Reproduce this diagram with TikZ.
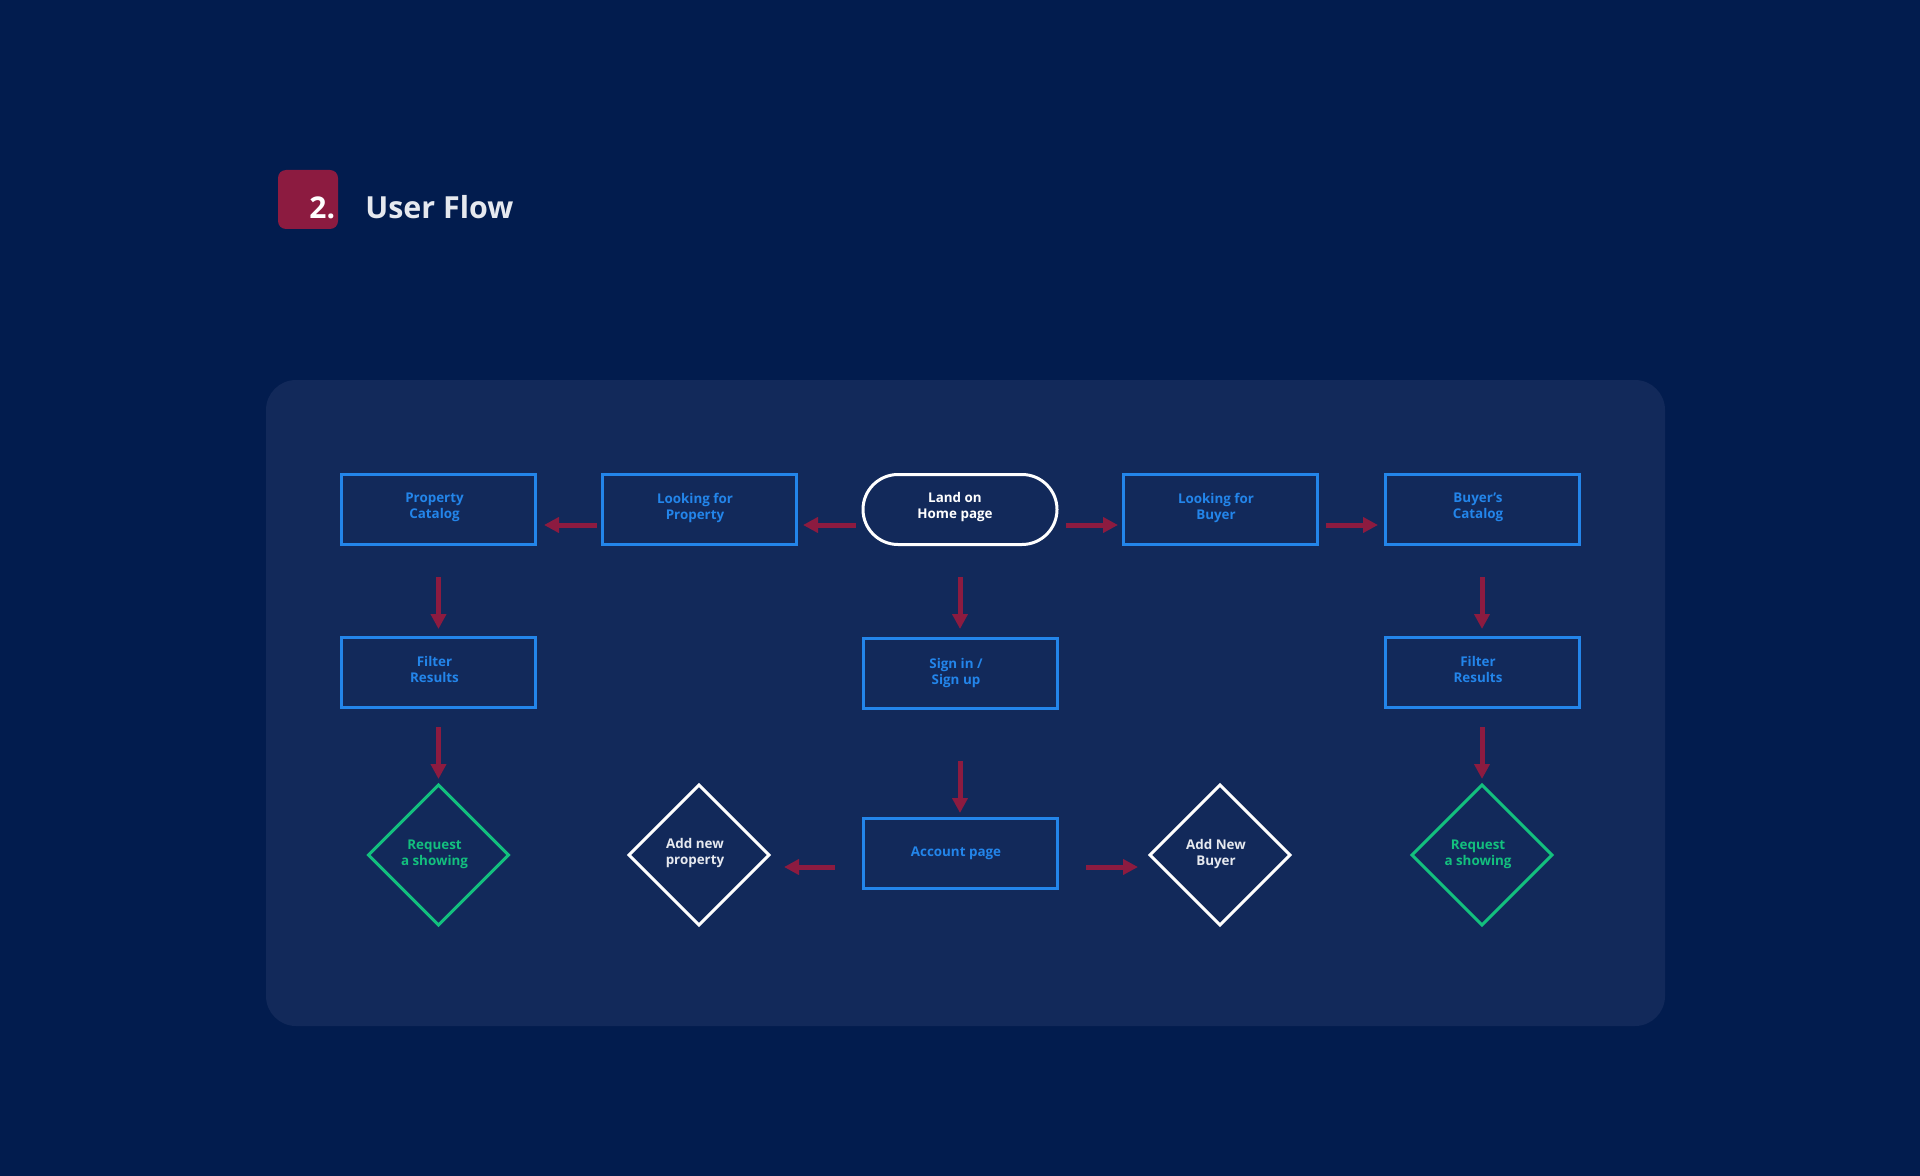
\documentclass[tikz,border=0pt]{standalone}
\usepackage{fontspec}
\setmainfont{Open Sans}
\usetikzlibrary{shapes.geometric,shapes.misc,arrows.meta,calc}
\definecolor{bgc}{HTML}{021C4E}
\definecolor{panel}{HTML}{12295A}
\definecolor{boxblue}{HTML}{2385EA}
\definecolor{crim}{HTML}{8C1B40}
\definecolor{grn}{HTML}{13C07E}
\definecolor{offw}{HTML}{E6E9EF}
\begin{document}
\begin{tikzpicture}[x=0.5pt,y=-0.5pt,
  txt/.style={font=\fontsize{6.7pt}{8pt}\selectfont\bfseries, align=center, inner sep=0pt},
  boxn/.style={rectangle, draw=boxblue, line width=1.5pt, minimum width=97pt, minimum height=35pt, inner sep=0pt, outer sep=0pt},
  pill/.style={rounded rectangle, draw=white, line width=1.5pt, minimum width=97pt, minimum height=35pt, inner sep=0pt, outer sep=0pt},
  dia/.style={diamond, line width=1.5pt, minimum width=70pt, minimum height=70pt, inner sep=0pt, outer sep=0pt},
  dgreen/.style={dia, draw=grn},
  dwhite/.style={dia, draw=white},
  arr/.style={draw=crim, line width=2.5pt, -{Triangle[length=7.5pt,width=7.5pt]}},
]
\fill[bgc] (0,0) rectangle (1920,1176);
\fill[panel, rounded corners=15pt] (266,380) rectangle (1665,1026);
\fill[crim, rounded corners=4pt] (278,170) rectangle (338,229);
\node[anchor=base west, inner sep=0pt, text=white, font=\fontsize{15pt}{16pt}\selectfont\bfseries] (num) at (309,219) {2.};
\node[anchor=base west, inner sep=0pt, text=offw, font=\fontsize{15.2pt}{16pt}\selectfont\bfseries] (title) at (365,219) {User Flow};

% shapes
\node[boxn] (pc) at (438.5,509.5) {};
\node[boxn] (lfp) at (699,509.5) {};
\node[pill] (home) at (960,509.5) {};
\node[boxn] (lfb) at (1220,509.5) {};
\node[boxn] (bc) at (1482,509.5) {};
\node[boxn] (fr1) at (438.5,672.5) {};
\node[boxn] (sign) at (960,673) {};
\node[boxn] (fr2) at (1482,672.5) {};
\node[dgreen] (rs1) at (438.5,855) {};
\node[dwhite] (anp) at (699,855) {};
\node[boxn] (acc) at (960,853.5) {};
\node[dwhite] (anb) at (1220,855) {};
\node[dgreen] (rs2) at (1482,855) {};

% texts
\node[txt, text=boxblue] (pct) at ($(pc)+(-4,-2)$) {Property\\Catalog};
\node[txt, text=boxblue] (lfpt) at ($(lfp)+(-4,-2)$) {Looking for\\Property};
\node[txt, text=white] (homet) at ($(home)+(-5,-2)$) {Land on\\Home page};
\node[txt, text=boxblue] (lfbt) at ($(lfb)+(-4,-2)$) {Looking for\\Buyer};
\node[txt, text=boxblue] (bct) at ($(bc)+(-4,-2)$) {Buyer’s\\Catalog};
\node[txt, text=boxblue] (fr1t) at ($(fr1)+(-4,-3)$) {Filter\\Results};
\node[txt, text=boxblue] (signt) at ($(sign)+(-4,0)$) {Sign in /\\Sign up};
\node[txt, text=boxblue] (fr2t) at ($(fr2)+(-4,-3)$) {Filter\\Results};
\node[txt, text=grn] (rs1t) at ($(rs1)+(-4,-1)$) {Request\\a showing};
\node[txt, text=offw] (anpt) at ($(anp)+(-4,-2)$) {Add new\\property};
\node[txt, text=boxblue] (acct) at ($(acc)+(-4,0)$) {Account page};
\node[txt, text=offw] (anbt) at ($(anb)+(-4,-1)$) {Add New\\Buyer};
\node[txt, text=grn] (rs2t) at ($(rs2)+(-4,-1)$) {Request\\a showing};

% connectors
\draw[arr] ($(home.west)+(-7,15.5)$) -- ($(lfp.east)+(7,15.5)$);
\draw[arr] ($(lfp.west)+(-5,15.5)$) -- ($(pc.east)+(8.5,15.5)$);
\draw[arr] ($(home.east)+(9,15.5)$) -- ($(lfb.west)+(-5,15.5)$);
\draw[arr] ($(lfb.east)+(9,15.5)$) -- ($(bc.west)+(-7,15.5)$);

\draw[arr] ($(pc.south)+(0,32.5)$) -- ($(fr1.north)+(0,-8.5)$);
\draw[arr] ($(home.south)+(0,32.5)$) -- ($(sign.north)+(0,-9)$);
\draw[arr] ($(bc.south)+(0,32.5)$) -- ($(fr2.north)+(0,-8.5)$);
\draw[arr] ($(fr1.south)+(0,19.5)$) -- ($(rs1.north)+(0,-6)$);
\draw[arr] ($(fr2.south)+(0,19.5)$) -- ($(rs2.north)+(0,-6)$);
\draw[arr] ($(sign.south)+(0,53)$) -- ($(acc.north)+(0,-5.5)$);

\draw[arr] ($(acc.west)+(-28,13.5)$) -- ($(anp.east)+(15,12)$);
\draw[arr] ($(acc.east)+(29,13.5)$) -- ($(anb.west)+(-12,12)$);
\end{tikzpicture}
\end{document}
